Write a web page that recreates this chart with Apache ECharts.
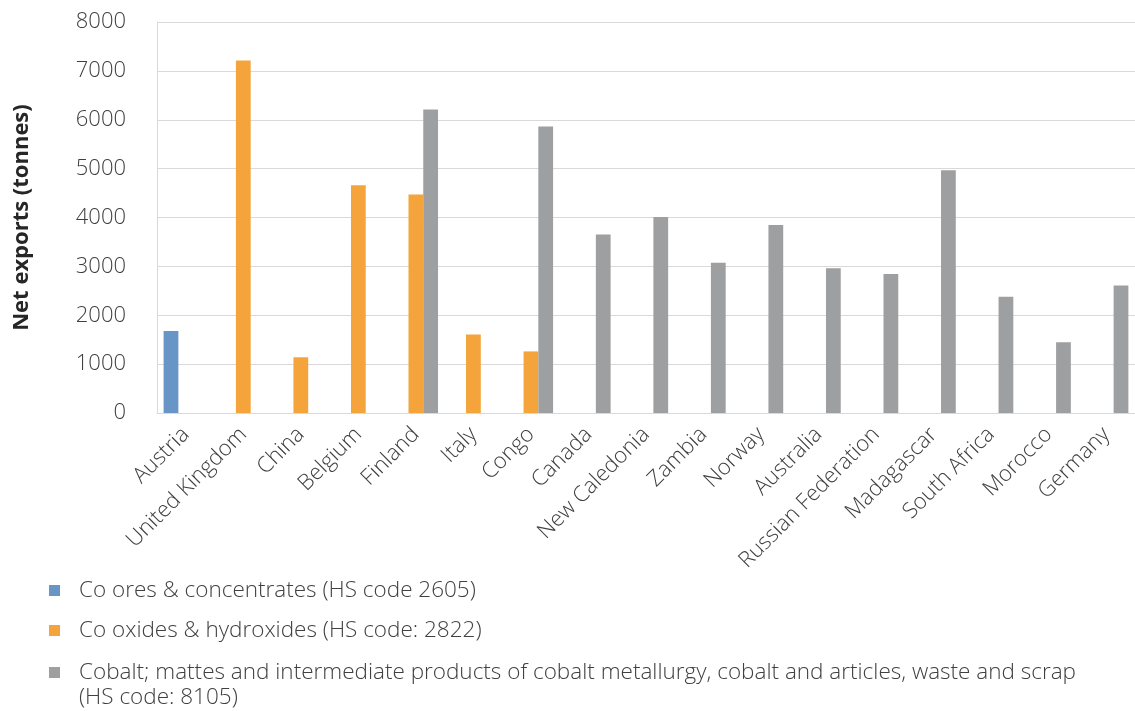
<!DOCTYPE html>
<html>
<head>
<meta charset="utf-8">
<script src="https://cdn.jsdelivr.net/npm/echarts@6/dist/echarts.min.js"></script>
<style>
  html, body { margin: 0; padding: 0; background: #fff; }
  #chart { width: 1135px; height: 711px; }
</style>
</head>
<body>
<div id="chart"></div>
<script>
var countries = ["Austria", "United Kingdom", "China", "Belgium", "Finland", "Italy", "Congo", "Canada",
  "New Caledonia", "Zambia", "Norway", "Australia", "Russian Federation", "Madagascar", "South Africa",
  "Morocco", "Germany"];
var seriesNames = [
  "Co ores & concentrates (HS code 2605)",
  "Co oxides & hydroxides (HS code: 2822)",
  "Cobalt; mattes and intermediate products of cobalt metallurgy, cobalt and articles, waste and scrap\n(HS code: 8105)"
];
var oresValues = [1680, null, null, null, null, null, null, null, null, null, null, null, null, null, null, null, null];
var oxidesValues = [null, 7210, 1140, 4660, 4470, 1605, 1260, null, null, null, null, null, null, null, null, null, null];
var cobaltValues = [null, null, null, null, 6210, null, 5860, 3650, 4010, 3075, 3845, 2960, 2845, 4965, 2380, 1450, 2610];
var yTicks = { min: 0, max: 8000, interval: 1000 };

var colors = ["#6695c6", "#f4a43a", "#9e9fa1"];
var font = "Open Sans";
var textColor = "#404040";

var chart = echarts.init(document.getElementById("chart"));

function legend(name, top, fmt) {
  return {
    orient: "vertical",
    left: 44,
    top: top,
    icon: "rect",
    itemWidth: 11,
    itemHeight: 11,
    itemGap: 0,
    data: [name],
    formatter: fmt,
    textStyle: {
      fontFamily: font,
      fontWeight: 300,
      fontSize: 22.5,
      color: textColor,
      lineHeight: 25,
      padding: [0, 0, 0, 14]
    }
  };
}

var option = {
  animation: false,
  color: colors,
  grid: { left: 157, right: 0, top: 22, bottom: 298, containLabel: false },
  legend: [
    legend(seriesNames[0], 573),
    legend(seriesNames[1], 613),
    // blank first line keeps the icon level with the first text line
    legend(seriesNames[2], 630, function (name) { return "\n" + name; })
  ],
  xAxis: {
    type: "category",
    data: countries,
    axisLine: { lineStyle: { color: "#d9d9d9", width: 1 } },
    axisTick: { show: false },
    axisLabel: {
      rotate: 45,
      interval: 0,
      margin: 18,
      fontFamily: font,
      fontWeight: 300,
      fontSize: 22,
      color: textColor
    }
  },
  yAxis: {
    type: "value",
    min: yTicks.min,
    max: yTicks.max,
    interval: yTicks.interval,
    name: "Net exports (tonnes)",
    nameLocation: "middle",
    nameGap: 124,
    nameTextStyle: { fontFamily: font, fontSize: 22, fontWeight: "bold", color: "#262626" },
    axisLine: { show: true, lineStyle: { color: "#d9d9d9", width: 1 } },
    axisTick: { show: false },
    splitLine: { lineStyle: { color: "#d9d9d9", width: 1 } },
    axisLabel: {
      fontFamily: font, fontWeight: 300, fontSize: 22, color: textColor, margin: 31,
      formatter: function (v) { return String(v); }
    }
  },
  series: [
    { name: seriesNames[0], type: "bar", data: oresValues, barGap: "0%", barCategoryGap: "23%" },
    { name: seriesNames[1], type: "bar", data: oxidesValues, barGap: "0%", barCategoryGap: "23%" },
    { name: seriesNames[2], type: "bar", data: cobaltValues, barGap: "0%", barCategoryGap: "23%" }
  ]
};

chart.setOption(option);
</script>
</body>
</html>
